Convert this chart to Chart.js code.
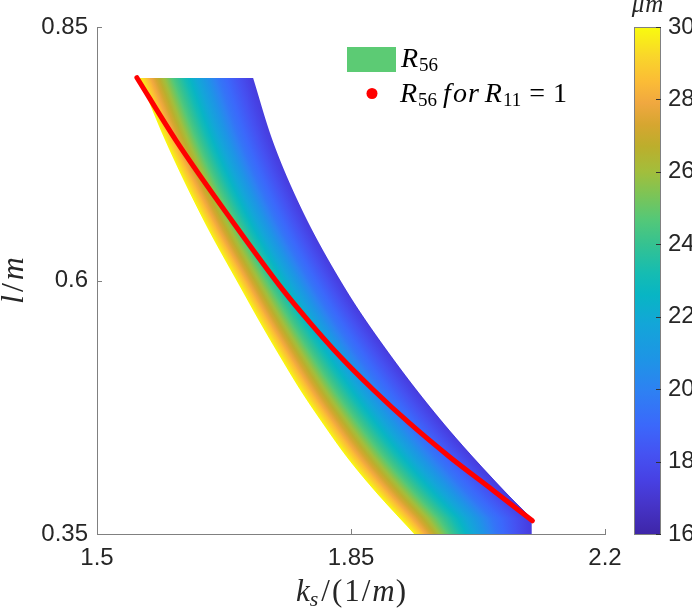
<!DOCTYPE html>
<html>
<head>
<meta charset="utf-8">
<script src="https://cdn.jsdelivr.net/npm/chart.js@4.4.1/dist/chart.umd.min.js"></script>
<style>
  html, body { margin: 0; padding: 0; background: #fff; }
  #wrap { width: 692px; height: 610px; }
</style>
</head>
<body>
<div id="wrap"><canvas id="grafico" width="692" height="610"></canvas></div>
<script>
// marcas dos eixos
const xTicks = [1.5, 1.85, 2.2];
const yTicks = [0.35, 0.6, 0.85];
const cbTicks = [16, 18, 20, 22, 24, 26, 28, 30];

// regiao R56: bordas esquerda e direita (ks, l)
const leftKs  = [1.558, 1.594, 1.647, 1.700, 1.725, 1.752, 1.780, 1.811, 1.844, 1.882, 1.937];
const leftL   = [0.800, 0.738, 0.659, 0.590, 0.558, 0.525, 0.492, 0.459, 0.426, 0.393, 0.350];
const rightKs = [1.715, 1.742, 1.783, 1.844, 1.906, 1.978, 2.061, 2.097];
const rightL  = [0.800, 0.738, 0.669, 0.590, 0.525, 0.459, 0.393, 0.367];
const ksMax = 2.099;

// valor de R56 (um) atraves da regiao, da borda esquerda (0) a direita (1)
const shadeT   = [0, 0.10, 0.30, 0.45, 0.70, 0.96, 1];
const shadeVal = [30, 28, 24.5, 22.5, 19.5, 17.5, 17.3];

// curva R56 para R11 = 1
const curveKs = [1.555, 1.609, 1.686, 1.757, 1.794, 1.835, 1.881, 1.931, 1.986, 2.046, 2.100];
const curveL  = [0.800, 0.738, 0.659, 0.590, 0.558, 0.525, 0.492, 0.459, 0.426, 0.393, 0.363];

// mapa de cores da barra (parula)
const cmapVal = [16, 16.8, 17.5, 18.2, 19, 20, 20.8, 21.8, 22.6, 23.2, 24, 24.7, 25.4, 26, 26.7, 27.3, 27.9, 28.5, 29.2, 30];
const cmapHex = ['#3e26a8', '#4634c8', '#4741e4', '#4552f2', '#3b68fb', '#2d82f2', '#1e94e6', '#13a6d8', '#08b5c4', '#15bcb2',
                 '#35c291', '#55c877', '#7ec455', '#a2be3c', '#bcae2c', '#d6a630', '#f0a840', '#fbbc36', '#f9d62a', '#f9fb0e'];

const corTexto = '#262626';
const corEixo = '#808080';
const fonteNum = '"Liberation Sans", Arial, sans-serif';
const it = s => 'italic ' + s + 'px "Liberation Serif", serif';
const up = s => s + 'px "Liberation Serif", serif';

function hexRgb(h) {
    return [parseInt(h.substr(1, 2), 16), parseInt(h.substr(3, 2), 16), parseInt(h.substr(5, 2), 16)];
}
const cmapRgb = cmapHex.map(hexRgb);

function corDe(v) {
    if (v <= cmapVal[0]) return cmapHex[0];
    for (let i = 1; i < cmapVal.length; i++) {
        if (v <= cmapVal[i]) {
            const f = (v - cmapVal[i - 1]) / (cmapVal[i] - cmapVal[i - 1]);
            const a = cmapRgb[i - 1], b = cmapRgb[i];
            return 'rgb(' + [0, 1, 2].map(k => Math.round(a[k] + (b[k] - a[k]) * f)).join(',') + ')';
        }
    }
    return cmapHex[cmapHex.length - 1];
}

// paradas do gradiente atraves da faixa
function paradasFaixa() {
    const out = [];
    for (let i = 0; i < shadeT.length; i++) out.push([shadeT[i], corDe(shadeVal[i])]);
    cmapVal.forEach((v, j) => {
        for (let i = 1; i < shadeT.length; i++) {
            const v0 = shadeVal[i - 1], v1 = shadeVal[i];
            if (v < v0 && v > v1) {
                out.push([shadeT[i - 1] + (shadeT[i] - shadeT[i - 1]) * (v0 - v) / (v0 - v1), cmapHex[j]]);
            }
        }
    });
    return out;
}

// borda suave x(y) em pixels (hermite, tangentes por media harmonica)
function curvaSuave(ys, xs) {
    const n = ys.length, d = [], m = [];
    for (let i = 0; i < n - 1; i++) d.push((xs[i + 1] - xs[i]) / (ys[i + 1] - ys[i]));
    m[0] = d[0];
    m[n - 1] = d[n - 2];
    for (let i = 1; i < n - 1; i++) m[i] = d[i - 1] * d[i] > 0 ? 2 * d[i - 1] * d[i] / (d[i - 1] + d[i]) : 0;
    return py => {
        if (py <= ys[0]) return xs[0] + m[0] * (py - ys[0]);
        if (py >= ys[n - 1]) return xs[n - 1] + m[n - 1] * (py - ys[n - 1]);
        let i = 0;
        while (py > ys[i + 1]) i++;
        const h = ys[i + 1] - ys[i], t = (py - ys[i]) / h, t2 = t * t, t3 = t2 * t;
        return (2 * t3 - 3 * t2 + 1) * xs[i] + (t3 - 2 * t2 + t) * h * m[i] +
               (-2 * t3 + 3 * t2) * xs[i + 1] + (t3 - t2) * h * m[i + 1];
    };
}

// texto com partes em fontes diferentes: [texto, fonte, deslocamento, espaco extra]
function textoRico(ctx, partes, x, y, alinhar) {
    let w = 0;
    partes.forEach(p => { ctx.font = p[1]; w += ctx.measureText(p[0]).width + (p[3] || 0); });
    let cx = alinhar === 'center' ? x - w / 2 : x;
    partes.forEach(p => {
        ctx.font = p[1];
        ctx.fillText(p[0], cx, y + (p[2] || 0));
        cx += ctx.measureText(p[0]).width + (p[3] || 0);
    });
}

const faixaPlugin = {
    id: 'faixa',
    beforeDatasetsDraw(chart) {
        const { ctx, scales: { x, y } } = chart;
        const bordaEsq = curvaSuave(leftL.map(v => y.getPixelForValue(v)), leftKs.map(v => x.getPixelForValue(v)));
        const bordaDir = curvaSuave(rightL.map(v => y.getPixelForValue(v)), rightKs.map(v => x.getPixelForValue(v)));
        const xLim = x.getPixelForValue(ksMax);
        const paradas = paradasFaixa();
        const topo = Math.round(y.getPixelForValue(Math.min(leftL[0], rightL[0])));
        const base = Math.round(y.getPixelForValue(leftL[leftL.length - 1]));
        ctx.save();
        for (let py = topo; py < base; py++) {
            const xl = bordaEsq(py + 0.5), xr = Math.min(bordaDir(py + 0.5), xLim);
            const g = ctx.createLinearGradient(xl, 0, xr, 0);
            paradas.forEach(p => g.addColorStop(Math.min(1, Math.max(0, p[0])), p[1]));
            ctx.fillStyle = g;
            ctx.fillRect(xl, py, xr - xl, 1);
        }
        ctx.restore();
    },
    afterDraw(chart) {
        const { ctx, scales: { x, y, cb } } = chart;
        ctx.save();

        // marcas para dentro
        ctx.strokeStyle = corEixo;
        ctx.lineWidth = 1;
        xTicks.forEach(v => {
            const px = Math.round(x.getPixelForValue(v)) + 0.5;
            ctx.beginPath(); ctx.moveTo(px, y.bottom); ctx.lineTo(px, y.bottom - 5); ctx.stroke();
        });
        yTicks.forEach(v => {
            const py = Math.round(y.getPixelForValue(v)) + 0.5;
            ctx.beginPath(); ctx.moveTo(x.left, py); ctx.lineTo(x.left + 5, py); ctx.stroke();
        });

        // barra de cores
        const bx = cb.left + 29, bw = 27;
        const bTop = cb.getPixelForValue(30), bBot = cb.getPixelForValue(16);
        const g = ctx.createLinearGradient(0, bBot, 0, bTop);
        cmapVal.forEach((v, i) => g.addColorStop((v - 16) / 14, cmapHex[i]));
        ctx.fillStyle = g;
        ctx.fillRect(bx, bTop, bw, bBot - bTop);
        ctx.strokeStyle = corEixo;
        ctx.strokeRect(bx + 0.5, Math.round(bTop) + 0.5, bw - 1, Math.round(bBot - bTop));
        ctx.strokeStyle = '#333';
        cbTicks.forEach(v => {
            const py = Math.round(cb.getPixelForValue(v)) + 0.5;
            ctx.beginPath(); ctx.moveTo(bx + bw, py); ctx.lineTo(bx + bw - 5, py); ctx.stroke();
        });
        ctx.fillStyle = corTexto;
        ctx.textBaseline = 'alphabetic';
        textoRico(ctx, [['\u03bc', it(25), 0, 1], ['m', it(25)]], bx + bw / 2, 12, 'center');

        // titulos dos eixos
        textoRico(ctx, [['k', it(31)], ['s', it(22), 5, 3], ['/', up(31), 0, 2], ['(', up(31), 0, 2],
                        ['1', up(31), 0, 2], ['/', up(31), 0, 2], ['m', it(31), 0, 1], [')', up(31)]],
                  (x.left + x.right) / 2, 601, 'center');
        ctx.save();
        ctx.translate(23, (y.top + y.bottom) / 2);
        ctx.rotate(-Math.PI / 2);
        textoRico(ctx, [['l', it(32), 0, 3], ['/', up(32), 0, 3], ['m', it(32)]], 0, 0, 'center');
        ctx.restore();

        // legenda
        ctx.fillStyle = '#5ccb74';
        ctx.fillRect(347, 47, 49, 25);
        ctx.fillStyle = '#ff0000';
        ctx.beginPath(); ctx.arc(372, 93.5, 5.5, 0, Math.PI * 2); ctx.fill();
        ctx.fillStyle = '#000';
        textoRico(ctx, [['R', it(28), 0, 1], ['56', up(19), 4]], 401, 67, 'left');
        textoRico(ctx, [['R', it(28), 0, 1], ['56', up(19), 4, 6], ['f', it(28), 0, 2], ['o', it(28), 0, 1], ['r', it(28), 0, 6],
                        ['R', it(28), 0, 1], ['11', up(19), 4, 8], ['=', up(28), 0, 8], ['1', up(28)]], 400, 102, 'left');
        ctx.restore();
    }
};

const ctx = document.getElementById('grafico').getContext('2d');
const grafico = new Chart(ctx, {
    type: 'scatter',
    data: {
        datasets: [{
            label: 'R56 for R11 = 1',
            data: curveKs.map((v, i) => ({ x: v, y: curveL[i] })),
            showLine: true,
            borderColor: '#ff0000',
            borderWidth: 5,
            borderCapStyle: 'round',
            borderJoinStyle: 'round',
            cubicInterpolationMode: 'monotone',
            pointRadius: 0
        }]
    },
    options: {
        responsive: false,
        animation: false,
        events: [],
        layout: { padding: { top: 27 } },
        plugins: {
            legend: { display: false },
            tooltip: { enabled: false }
        },
        scales: {
            x: {
                type: 'linear',
                min: 1.5,
                max: 2.2,
                grid: { display: false, drawTicks: false },
                border: { display: true, color: corEixo },
                ticks: {
                    font: { family: fonteNum, size: 24 },
                    color: corTexto,
                    padding: 10,
                    maxRotation: 0,
                    callback: v => String(+v.toFixed(2))
                },
                afterBuildTicks: s => { s.ticks = xTicks.map(v => ({ value: v })); },
                afterFit: s => { s.height = 76; }
            },
            y: {
                type: 'linear',
                position: 'left',
                min: 0.35,
                max: 0.85,
                grid: { display: false, drawTicks: false },
                border: { display: true, color: corEixo },
                ticks: {
                    font: { family: fonteNum, size: 24 },
                    color: corTexto,
                    padding: 9,
                    callback: v => String(+v.toFixed(2))
                },
                afterBuildTicks: s => { s.ticks = yTicks.map(v => ({ value: v })); },
                afterFit: s => { s.width = 97; }
            },
            cb: {
                type: 'linear',
                position: 'right',
                min: 16,
                max: 30,
                // as marcas nao sao desenhadas; o comprimento so afasta os rotulos da area
                grid: { display: false, drawTicks: true, tickLength: 54 },
                border: { display: false },
                ticks: {
                    font: { family: fonteNum, size: 24 },
                    color: corTexto,
                    padding: 9
                },
                afterBuildTicks: s => { s.ticks = cbTicks.map(v => ({ value: v })); },
                afterFit: s => { s.width = 87; }
            }
        }
    },
    plugins: [faixaPlugin]
});
</script>
</body>
</html>
